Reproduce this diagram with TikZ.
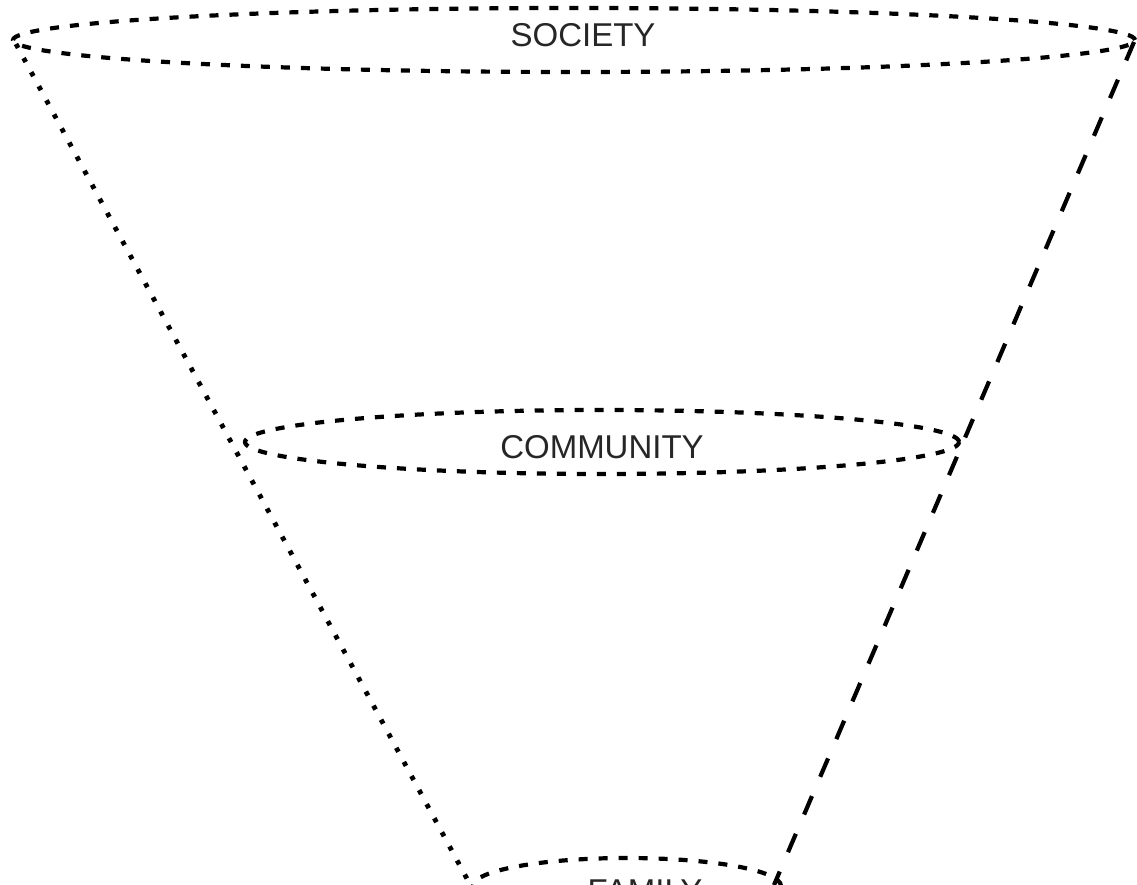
\documentclass[tikz,border=0pt]{standalone}
\usepackage{fontspec}
\setmainfont{Liberation Sans}
\usetikzlibrary{shapes.geometric}
\begin{document}
\begin{tikzpicture}[x=1pt,y=-1pt,
  ring/.style={draw=black, ellipse, line width=4.2pt, dash pattern=on 9pt off 11pt, inner sep=0pt},
  leftedge/.style={draw=black, line width=4.8pt, dash pattern=on 4.5pt off 11.5pt},
  rightedge/.style={draw=black, line width=4.2pt, dash pattern=on 20pt off 21pt},
  lbl/.style={font=\fontsize{33}{36}\selectfont, text=black!85, inner sep=0pt}
]
\useasboundingbox (0,0) rectangle (1137,885);
% rings
\node[ring, minimum width=1122pt, minimum height=64pt] (soc) at (574,40) {};
\node[ring, minimum width=714pt, minimum height=64pt] (comm) at (602,442) {};
\node[ring, minimum width=308pt, minimum height=56pt] (fam) at (627,886) {};
% labels
\node[lbl] (socl) at (583,35) {SOCIETY};
\node[lbl] (comml) at (602,447) {COMMUNITY};
\node[lbl] (faml) at (645,891) {FAMILY};
% funnel edges
\coordinate (tl) at (16,44);
\coordinate (bl) at (472,888);
\coordinate (tr) at (1134,42);
\coordinate (br) at (774,885);
\draw[leftedge] (tl) -- (bl);
\draw[rightedge] (tr) -- (br);
\end{tikzpicture}
\end{document}
